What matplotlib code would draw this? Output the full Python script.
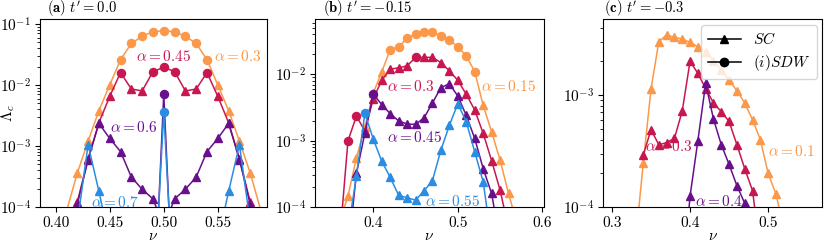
import numpy as np
import matplotlib
matplotlib.use('Agg')
import matplotlib.pyplot as plt
from matplotlib.lines import Line2D

plt.rcParams.update({
    'font.family': 'cmr10',
    'mathtext.fontset': 'cm',
    'axes.unicode_minus': False,
    'axes.formatter.use_mathtext': True,
    'font.size': 11,
})

ORANGE = '#fb984a'
CRIMSON = '#c8174f'
PURPLE = '#680f8c'
BLUE = '#2a8de2'

# ---- panel (a): t' = 0.0 ----
nu_a = [0.41, 0.42, 0.43, 0.44, 0.45, 0.46, 0.47, 0.48, 0.49, 0.50,
        0.51, 0.52, 0.53, 0.54, 0.55, 0.56, 0.57, 0.58, 0.59]
lam_a_03 = [8.5e-5, 3.6e-4, 1.2e-3, 3.8e-3, 1.0e-2, 2.6e-2, 4.8e-2, 6.3e-2, 7.5e-2, 7.7e-2,
            7.5e-2, 6.3e-2, 4.8e-2, 2.6e-2, 1.0e-2, 3.8e-3, 1.2e-3, 3.6e-4, 8.5e-5]
sdw_a_03 = [0.46, 0.47, 0.48, 0.49, 0.50, 0.51, 0.52, 0.53, 0.54]
lam_a_045 = [6e-5, 1.2e-4, 6.2e-4, 2.4e-3, 6.5e-3, 1.6e-2, 8.6e-3, 8.0e-3, 1.66e-2, 1.95e-2,
             1.66e-2, 8.0e-3, 8.6e-3, 1.6e-2, 6.5e-3, 2.4e-3, 6.2e-4, 1.2e-4, 6e-5]
sdw_a_045 = [0.46, 0.49, 0.50, 0.51, 0.54]
nu_a_06 = [0.41, 0.42, 0.43, 0.44, 0.45, 0.46, 0.47, 0.48, 0.49, 0.495, 0.50,
           0.505, 0.51, 0.52, 0.53, 0.54, 0.55, 0.56, 0.57, 0.58, 0.59]
lam_a_06 = [3e-5, 1.1e-4, 6.0e-4, 2.35e-3, 1.33e-3, 8.1e-4, 3.1e-4, 1.95e-4, 1.36e-4, 8e-5, 7.1e-3,
            8e-5, 1.36e-4, 1.95e-4, 3.1e-4, 8.1e-4, 1.33e-3, 2.35e-3, 6.0e-4, 1.1e-4, 3e-5]
sdw_a_06 = [0.50]
nu_a_07 = [0.42, 0.43, 0.44, 0.45, 0.495, 0.50, 0.505, 0.55, 0.56, 0.57, 0.58]
lam_a_07 = [5.5e-5, 1.05e-3, 1.8e-4, 2.8e-5, 8e-5, 3.55e-3, 8e-5, 2.8e-5, 1.8e-4, 1.05e-3, 5.5e-5]
sdw_a_07 = [0.50]

# ---- panel (b): t' = -0.15 ----
nu_b_015 = [0.36, 0.37, 0.38, 0.39, 0.40, 0.41, 0.42, 0.43, 0.44, 0.45, 0.46,
            0.47, 0.48, 0.49, 0.50, 0.51, 0.52, 0.53, 0.54, 0.55, 0.56, 0.57]
lam_b_015 = [6e-5, 1.45e-4, 5.5e-4, 1.6e-3, 5.2e-3, 1.09e-2, 2.35e-2, 2.6e-2, 3.5e-2, 4.0e-2, 4.4e-2,
             4.3e-2, 3.8e-2, 3.3e-2, 2.6e-2, 1.9e-2, 1.1e-2, 3.4e-3, 1.36e-3, 5.1e-4, 1.6e-4, 5.7e-5]
sdw_b_015 = [0.42, 0.43, 0.44, 0.45, 0.46, 0.47, 0.48, 0.49, 0.50, 0.51, 0.52]
nu_b_03 = [0.36, 0.37, 0.38, 0.39, 0.40, 0.41, 0.42, 0.43, 0.44, 0.45, 0.46,
           0.47, 0.48, 0.49, 0.50, 0.51, 0.52, 0.53, 0.54, 0.55, 0.56]
lam_b_03 = [3e-5, 9.9e-4, 2.35e-3, 1.4e-3, 4.3e-3, 8.1e-3, 1.2e-2, 1.25e-2, 1.34e-2, 1.8e-2, 1.8e-2,
            1.8e-2, 1.5e-2, 1.13e-2, 8.1e-3, 5.0e-3, 2.9e-3, 1.29e-3, 5.0e-4, 1.8e-4, 4.8e-5]
sdw_b_03 = [0.37, 0.38, 0.45]
nu_b_045 = [0.37, 0.38, 0.39, 0.40, 0.41, 0.42, 0.43, 0.44, 0.45, 0.46,
            0.47, 0.48, 0.49, 0.50, 0.51, 0.52, 0.53, 0.54, 0.55]
lam_b_045 = [2e-5, 3.2e-4, 1.3e-3, 5.0e-3, 3.5e-3, 2.55e-3, 1.98e-3, 1.78e-3, 1.76e-3, 2.2e-3,
             3.7e-3, 6.3e-3, 7.2e-3, 4.7e-3, 2.4e-3, 1.08e-3, 3.8e-4, 1.6e-4, 3e-5]
sdw_b_045 = [0.40]
nu_b_055 = [0.37, 0.38, 0.39, 0.40, 0.41, 0.42, 0.43, 0.44, 0.45, 0.46,
            0.47, 0.48, 0.49, 0.50, 0.51, 0.52, 0.53, 0.54]
lam_b_055 = [4.4e-5, 2.9e-4, 2.6e-3, 1.05e-3, 4.9e-4, 2.8e-4, 1.5e-4, 1.38e-4, 1.27e-4, 1.75e-4,
             2.5e-4, 7.2e-4, 1.7e-3, 3.6e-3, 1.93e-3, 6.8e-4, 2.4e-4, 3e-5]
sdw_b_055 = [0.39]

# ---- panel (c): t' = -0.3 ----
nu_c_01 = [0.33, 0.34, 0.35, 0.36, 0.37, 0.38, 0.39, 0.40, 0.41, 0.42,
           0.43, 0.44, 0.45, 0.46, 0.47, 0.48, 0.49, 0.50, 0.51, 0.52]
lam_c_01 = [4.7e-5, 2.45e-4, 1.13e-3, 2.99e-3, 3.44e-3, 3.27e-3, 3.16e-3, 2.95e-3, 2.7e-3, 2.44e-3,
            2.03e-3, 1.67e-3, 1.36e-3, 1.09e-3, 8.5e-4, 6.0e-4, 4.0e-4, 2.0e-4, 1.3e-4, 6.6e-5]
nu_c_03 = [0.34, 0.35, 0.36, 0.37, 0.38, 0.39, 0.40, 0.41,
           0.42, 0.43, 0.44, 0.45, 0.46, 0.47, 0.48, 0.49]
lam_c_03 = [2.9e-4, 4.9e-4, 3.6e-4, 3.75e-4, 4.1e-4, 7.2e-4, 2.0e-3, 1.56e-3,
            1.14e-3, 8.5e-4, 7.1e-4, 5.8e-4, 3.6e-4, 2.2e-4, 1.4e-4, 4e-5]
nu_c_04 = [0.39, 0.40, 0.41, 0.42, 0.43, 0.44, 0.45, 0.46, 0.47, 0.48]
lam_c_04 = [2e-5, 1.25e-4, 3.9e-4, 1.27e-3, 6.1e-4, 3.6e-4, 2.4e-4, 1.55e-4, 1.08e-4, 3e-5]


def draw(ax, nu, lam, sdw, color):
    nu = np.array(nu)
    lam = np.array(lam)
    is_sdw = np.isin(np.round(nu, 3), np.round(sdw, 3))
    ax.plot(nu, lam, '-', color=color, lw=1.1)
    ax.plot(nu[~is_sdw], lam[~is_sdw], '^', color=color, ms=5.2, lw=0)
    ax.plot(nu[is_sdw], lam[is_sdw], 'o', color=color, ms=5.8, lw=0)


fig = plt.figure(figsize=(8.31, 2.49), dpi=100)
W, H = 831, 249


def make_axes(x0, x1, y0=19.5, y1=207):
    return fig.add_axes([x0 / W, 1 - y1 / H, (x1 - x0) / W, (y1 - y0) / H])


ax_a = make_axes(40, 267)
ax_b = make_axes(315, 544)
ax_c = make_axes(603, 822)

draw(ax_a, nu_a, lam_a_03, sdw_a_03, ORANGE)
draw(ax_a, nu_a, lam_a_045, sdw_a_045, CRIMSON)
draw(ax_a, nu_a_06, lam_a_06, sdw_a_06, PURPLE)
draw(ax_a, nu_a_07, lam_a_07, sdw_a_07, BLUE)

draw(ax_b, nu_b_015, lam_b_015, sdw_b_015, ORANGE)
draw(ax_b, nu_b_03, lam_b_03, sdw_b_03, CRIMSON)
draw(ax_b, nu_b_045, lam_b_045, sdw_b_045, PURPLE)
draw(ax_b, nu_b_055, lam_b_055, sdw_b_055, BLUE)

draw(ax_c, nu_c_01, lam_c_01, [], ORANGE)
draw(ax_c, nu_c_03, lam_c_03, [], CRIMSON)
draw(ax_c, nu_c_04, lam_c_04, [], PURPLE)

for ax in (ax_a, ax_b, ax_c):
    ax.set_yscale('log')
    ax.set_xlabel(r'$\nu$', labelpad=0)
    ax.tick_params(labelsize=11, pad=3)

ax_a.set_xlim(0.3855, 0.5955)
ax_a.set_ylim(1e-4, 0.1186)
ax_a.set_xticks([0.40, 0.45, 0.50, 0.55])
ax_a.set_xticklabels(['0.40', '0.45', '0.50', '0.55'])
ax_a.set_ylabel(r'$\Lambda_c$')
ax_a.yaxis.set_label_coords(-0.1, 0.5)

ax_b.set_xlim(0.331, 0.602)
ax_b.set_ylim(1e-4, 0.067)
ax_b.set_xticks([0.4, 0.5, 0.6])
ax_b.set_xticklabels(['0.4', '0.5', '0.6'])

ax_c.set_xlim(0.2885, 0.569)
ax_c.set_ylim(1e-4, 0.00472)
ax_c.set_xticks([0.3, 0.4, 0.5])
ax_c.set_xticklabels(['0.3', '0.4', '0.5'])

titles = [(ax_a, r'$\mathbf{(a)}\ t^{\prime} = 0.0$', 0.03),
          (ax_b, r'$\mathbf{(b)}\ t^{\prime} = -0.15$', 0.035),
          (ax_c, r'$\mathbf{(c)}\ t^{\prime} = -0.3$', 0.005)]
for ax, t, x in titles:
    ax.text(x, 1.006, t, transform=ax.transAxes, ha='left', va='bottom', fontsize=10.5)

# curve labels
ax_a.text(0.5001, 0.029, r'$\alpha = 0.45$', color=CRIMSON, ha='center', va='center')
ax_a.text(0.5467, 0.029, r'$\alpha = 0.3$', color=ORANGE, ha='left', va='center')
ax_a.text(0.4498, 2.04e-3, r'$\alpha = 0.6$', color=PURPLE, ha='left', va='center')
ax_a.text(0.433, 1.2e-4, r'$\alpha = 0.7$', color=BLUE, ha='left', va='center')

ax_b.text(0.4159, 6.6e-3, r'$\alpha = 0.3$', color=CRIMSON, ha='left', va='center')
ax_b.text(0.5276, 6.6e-3, r'$\alpha = 0.15$', color=ORANGE, ha='left', va='center')
ax_b.text(0.4159, 1.12e-3, r'$\alpha = 0.45$', color=PURPLE, ha='left', va='center')
ax_b.text(0.4613, 1.2e-4, r'$\alpha = 0.55$', color=BLUE, ha='left', va='center')

ax_c.text(0.3423, 3.5e-4, r'$\alpha = 0.3$', color=CRIMSON, ha='left', va='center')
ax_c.text(0.5004, 3.1e-4, r'$\alpha = 0.1$', color=ORANGE, ha='left', va='center')
ax_c.text(0.4064, 1.11e-4, r'$\alpha = 0.4$', color=PURPLE, ha='left', va='center')

handles = [Line2D([], [], color='k', marker='^', ms=6, lw=1.1),
           Line2D([], [], color='k', marker='o', ms=6, lw=1.1)]
ax_c.legend(handles, [r'$\mathit{SC}$', r'$\mathit{(i)SDW}$'], loc='upper right',
            fontsize=11, handlelength=2.2, borderaxespad=0.35, borderpad=0.4, labelspacing=0.4)

fig.savefig('out.png', dpi=100)
